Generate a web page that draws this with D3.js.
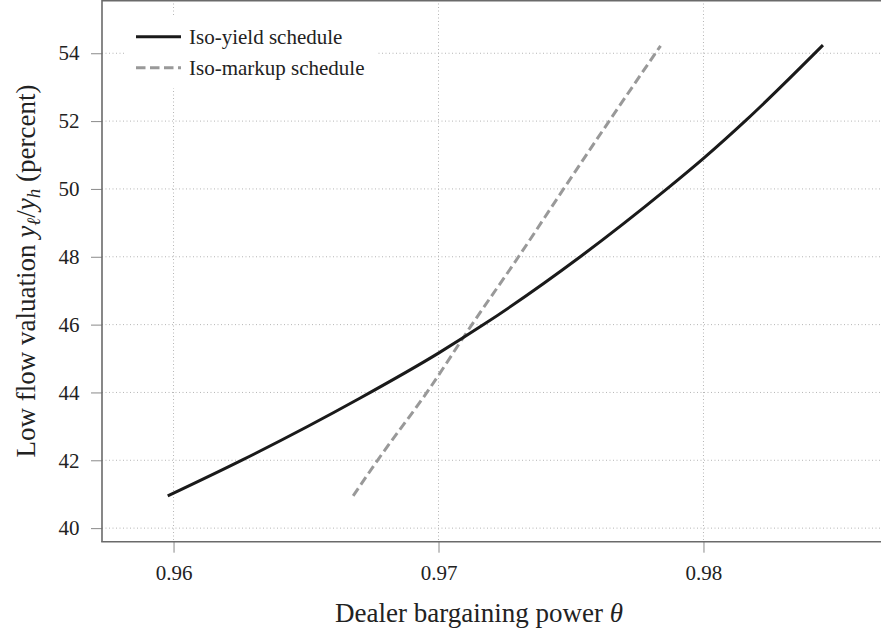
<!DOCTYPE html>
<html>
<head>
<meta charset="utf-8">
<script src="https://cdn.jsdelivr.net/npm/d3@7"></script>
<style>
  body { margin: 0; background: #fff; }
  svg { display: block; }
</style>
</head>
<body>
<svg id="chart" width="881" height="632"></svg>
<script>
'use strict';

// values
var isoYieldTheta = [0.95978, 0.96262, 0.96703, 0.97000, 0.97170, 0.97535, 0.97862, 0.98000, 0.98164, 0.98451];
var isoYieldValue = [40.95, 42.02, 43.83, 45.16, 46.00, 48.00, 50.00, 50.90, 52.05, 54.24];
var isoMarkupTheta = [0.96678, 0.96770, 0.96956, 0.97126, 0.97302, 0.97472, 0.97644, 0.97838];
var isoMarkupValue = [40.95, 42.00, 44.00, 46.00, 48.00, 50.00, 52.00, 54.22];
var xTicks = [0.96, 0.97, 0.98];
var yTicks = [40, 42, 44, 46, 48, 50, 52, 54];
var seriesLabels = ['Iso-yield schedule', 'Iso-markup schedule'];

var _font = "'Liberation Serif', 'Times New Roman', 'DejaVu Serif', serif";
var _left = 102;
var _right = 881;
var _top = 0;
var _bottom = 541.7;

var svg = d3.select('#chart');

var x = d3.scaleLinear().domain([0.9573, 0.9867]).range([_left, _right]);
var y = d3.scaleLinear().domain([39.6, 55.57]).range([_bottom, _top]);

// dotted grid
var grid = svg.append('g').attr('stroke', '#b5b5b5').attr('stroke-width', 1)
        .attr('stroke-dasharray', '1,2.5');
grid.selectAll('line.gx').data(xTicks).enter().append('line')
        .attr('class', 'gx')
        .attr('x1', function(d) { return x(d); })
        .attr('x2', function(d) { return x(d); })
        .attr('y1', _top).attr('y2', _bottom);
grid.selectAll('line.gy').data(yTicks).enter().append('line')
        .attr('class', 'gy')
        .attr('x1', _left).attr('x2', _right)
        .attr('y1', function(d) { return y(d); })
        .attr('y2', function(d) { return y(d); });

// axes
var xAxis = svg.append('g')
        .attr('transform', 'translate(0,' + _bottom + ')')
        .call(d3.axisBottom(x).tickValues(xTicks).tickSize(11).tickPadding(12.4)
            .tickFormat(d3.format('.2f')));
var yAxis = svg.append('g')
        .attr('transform', 'translate(' + _left + ',0)')
        .call(d3.axisLeft(y).tickValues(yTicks).tickSize(11).tickPadding(11.5)
            .tickFormat(d3.format('d')));

[xAxis, yAxis].forEach(function(ax) {
    ax.select('.domain').remove();
    ax.selectAll('.tick line').attr('stroke', '#8a8a8a').attr('stroke-width', 1);
    ax.selectAll('.tick text')
            .attr('fill', '#222')
            .attr('font-family', null)
            .attr('font-size', null)
            .style('font-family', _font)
            .style('font-size', '21px');
});
svg.selectAll('g').attr('font-family', null).attr('font-size', null);

// spines (left, bottom, top)
var spines = svg.append('g').attr('stroke', '#6a6a6a').attr('stroke-width', 1.6).attr('fill', 'none');
spines.append('line').attr('x1', _left).attr('x2', _left).attr('y1', _top).attr('y2', _bottom);
spines.append('line').attr('x1', _left - 0.8).attr('x2', _right).attr('y1', _bottom).attr('y2', _bottom);
spines.append('line').attr('x1', _left).attr('x2', _right).attr('y1', _top + 0.8).attr('y2', _top + 0.8);

// curves
var line = d3.line()
        .x(function(d) { return x(d[0]); })
        .y(function(d) { return y(d[1]); })
        .curve(d3.curveMonotoneX);

svg.append('path')
        .datum(d3.zip(isoMarkupTheta, isoMarkupValue))
        .attr('d', line)
        .attr('fill', 'none')
        .attr('stroke', '#999999')
        .attr('stroke-width', 3)
        .attr('stroke-dasharray', '9,4.5');

svg.append('path')
        .datum(d3.zip(isoYieldTheta, isoYieldValue))
        .attr('d', line)
        .attr('fill', 'none')
        .attr('stroke', '#1a1a1a')
        .attr('stroke-width', 3);

// legend
var legend = svg.append('g');
legend.append('rect')
        .attr('x', 126).attr('y', 17).attr('width', 250).attr('height', 71)
        .attr('fill', '#fff');
var _keyStyles = [{stroke: '#1a1a1a', dash: null}, {stroke: '#999999', dash: '9.5,4.5'}];
seriesLabels.forEach(function(label, i) {
    var _ky = 36.7 + i * 31;
    legend.append('line')
            .attr('x1', 136).attr('x2', 181)
            .attr('y1', _ky).attr('y2', _ky)
            .attr('stroke', _keyStyles[i].stroke)
            .attr('stroke-width', 3)
            .attr('stroke-dasharray', _keyStyles[i].dash);
    legend.append('text')
            .attr('x', 189).attr('y', _ky + 7)
            .attr('fill', '#222')
            .style('font-family', _font)
            .style('font-size', '21px')
            .text(label);
});

// axis titles
var xLabel = svg.append('text')
        .attr('x', 479).attr('y', 622)
        .attr('text-anchor', 'middle')
        .attr('fill', '#222')
        .style('font-family', _font)
        .style('font-size', '27px');
xLabel.append('tspan').text('Dealer bargaining power ');
xLabel.append('tspan').style('font-style', 'italic').text('θ');

var yLabel = svg.append('text')
        .attr('transform', 'translate(35,271) rotate(-90)')
        .attr('text-anchor', 'middle')
        .attr('fill', '#222')
        .style('font-family', _font)
        .style('font-size', '27px');
yLabel.append('tspan').text('Low flow valuation ');
yLabel.append('tspan').style('font-style', 'italic').text('y');
yLabel.append('tspan').style('font-style', 'italic').style('font-size', '19px').attr('dy', 5).text('ℓ');
yLabel.append('tspan').attr('dy', -5).text('/');
yLabel.append('tspan').style('font-style', 'italic').text('y');
yLabel.append('tspan').style('font-style', 'italic').style('font-size', '19px').attr('dy', 5).text('h');
yLabel.append('tspan').attr('dy', -5).text(' (percent)');
</script>
</body>
</html>
